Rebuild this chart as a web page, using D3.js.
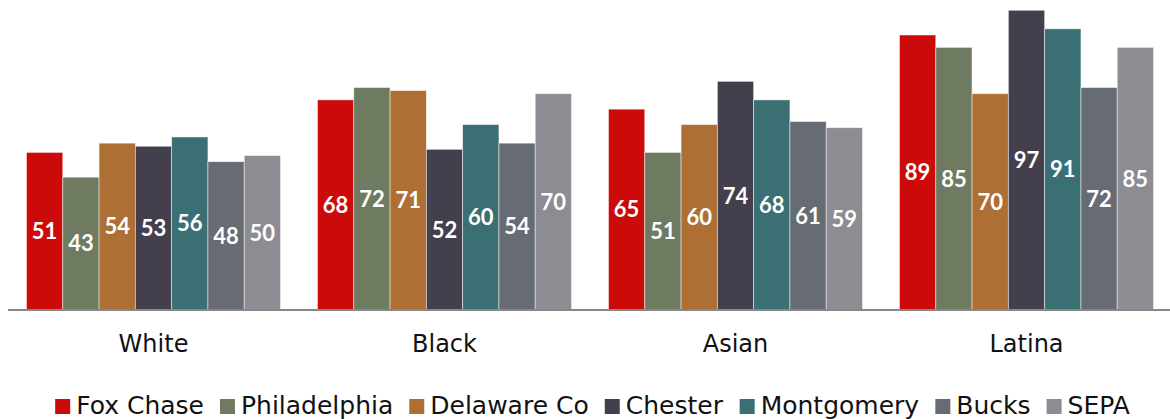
<!DOCTYPE html>
<html>
<head>
<meta charset="utf-8">
<script src="https://cdn.jsdelivr.net/npm/d3@7"></script>
<style>
  body { margin: 0; background: #fff; }
  text { font-family: "DejaVu Sans", sans-serif; }
</style>
</head>
<body>
<div id="chart"></div>
<script>
var groups = ["White", "Black", "Asian", "Latina"];
var series = ["Fox Chase", "Philadelphia", "Delaware Co", "Chester", "Montgomery", "Bucks", "SEPA"];
var colors = ["#cc0a0a", "#6f7b60", "#ad6f33", "#433f4d", "#3a7073", "#676b73", "#8c8c92"];

var foxChase     = [51, 68, 65, 89];
var philadelphia = [43, 72, 51, 85];
var delawareCo   = [54, 71, 60, 70];
var chester      = [53, 52, 74, 97];
var montgomery   = [56, 60, 68, 91];
var bucks        = [48, 54, 61, 72];
var sepa         = [50, 70, 59, 85];

var values = [foxChase, philadelphia, delawareCo, chester, montgomery, bucks, sepa];

const width = 1170;
const height = 419;
const base = 310;

var x0 = d3.scaleBand().domain(groups).range([8, 1172]).paddingInner(0.127).paddingOuter(0.0635);
var x1 = d3.scaleBand().domain(series).range([0, x0.bandwidth()]);
var y = d3.scaleLinear().domain([0, 100]).range([base, 1]);

const svg = d3.select("#chart").append("svg")
    .attr("width", width)
    .attr("height", height);

var rows = [];
groups.forEach((g, gi) => {
    series.forEach((s, si) => {
        rows.push({group: g, series: s, color: colors[si], value: values[si][gi]});
    });
});

const bars = svg.selectAll("g.bar")
    .data(rows)
    .enter()
    .append("g")
    .attr("class", "bar")
    .attr("transform", (d) => `translate(${x0(d.group) + x1(d.series)},0)`);

bars.append("rect")
    .attr("y", (d) => y(d.value))
    .attr("width", x1.bandwidth())
    .attr("height", (d) => base - y(d.value))
    .attr("fill", (d) => d.color)
    .attr("stroke", "#ffffff")
    .attr("stroke-opacity", 0.6)
    .attr("stroke-width", 0.8);

bars.append("text")
    .attr("x", x1.bandwidth() / 2)
    .attr("y", (d) => (y(d.value) + base) / 2)
    .attr("dy", "0.36em")
    .attr("text-anchor", "middle")
    .attr("fill", "#fff")
    .attr("font-weight", "bold")
    .attr("font-size", 22)
    .style("font-family", "Lato, sans-serif")
    .text((d) => d.value);

// baseline axis
var xAxis = d3.axisBottom(x0).tickSize(0).tickPadding(25);
const ax = svg.append("g")
    .attr("transform", `translate(0,${base})`)
    .call(xAxis);
ax.select(".domain").attr("stroke", "#888").attr("stroke-width", 2).attr("d", "M8,0H1170");
ax.selectAll("text")
    .attr("font-size", 24)
    .attr("fill", "#111")
    .style("font-family", "'DejaVu Sans', sans-serif");

// legend
const legend = svg.append("g").attr("class", "legend");
var items = legend.selectAll("g")
    .data(series)
    .enter()
    .append("g");
items.append("rect")
    .attr("width", 15)
    .attr("height", 15)
    .attr("y", -15)
    .attr("fill", (d, i) => colors[i]);
items.append("text")
    .attr("x", 21)
    .attr("font-size", 25)
    .attr("fill", "#111")
    .text((d) => d);

var gap = 16;
var pos = 0;
items.each(function() {
    var w = this.getBBox().width;
    d3.select(this).attr("transform", `translate(${pos},414)`);
    pos += w + gap;
});
pos -= gap;
legend.attr("transform", `translate(${(48 + 1137) / 2 - pos / 2},0)`);
</script>
</body>
</html>
